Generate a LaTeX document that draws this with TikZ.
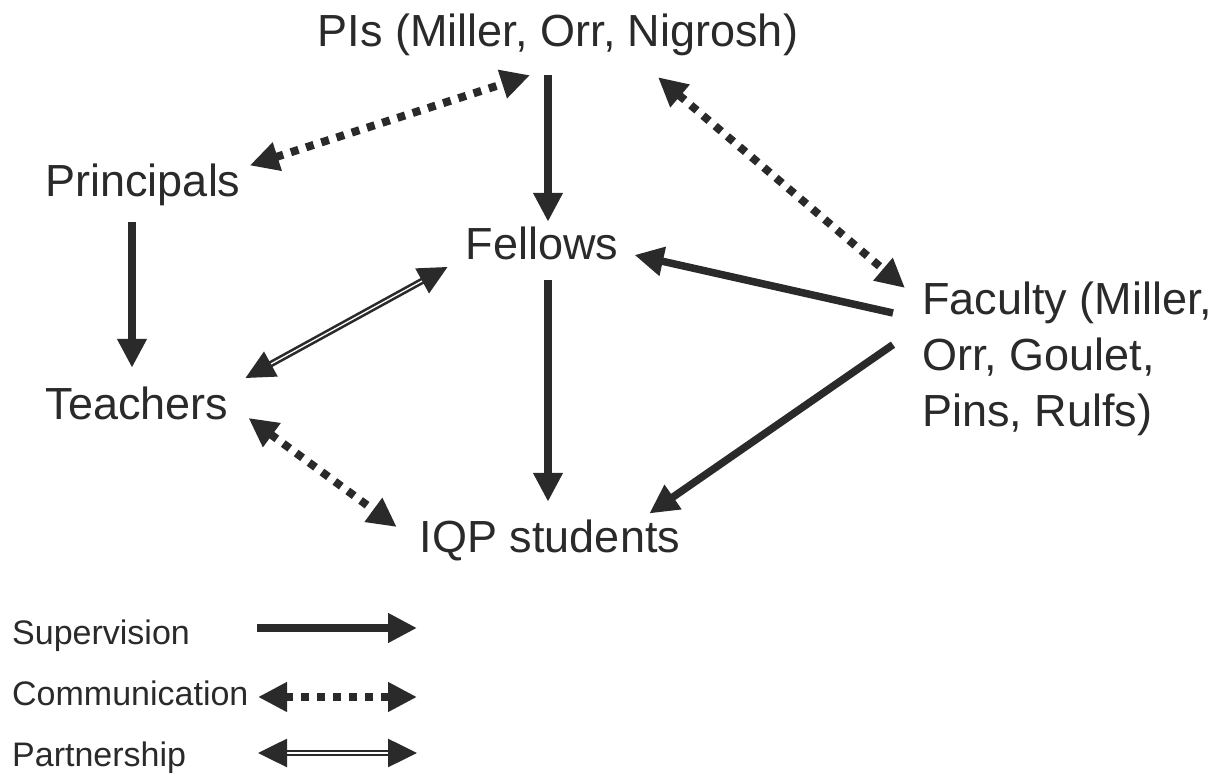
\documentclass[tikz,border=0pt]{standalone}
\usepackage{fontspec}
\setmainfont{Liberation Sans}
\usetikzlibrary{arrows.meta,positioning}
\definecolor{ink}{RGB}{42,42,42}

\begin{document}
\begin{tikzpicture}[
	x = 1pt, y = 1pt,
	every node/.style = {inner sep=0, text=ink},
	role/.style = {font=\fontsize{45}{56}\selectfont, text height=33pt, text depth=10pt, anchor=base},
	key/.style = {font=\fontsize{34}{40}\selectfont, anchor=base west},
	supervise/.style = {draw=ink, line width=7.5pt, -{Triangle[length=29pt, width=28pt]}},
	talk/.style = {draw=ink, line width=8pt, dash pattern=on 8pt off 8pt, {Triangle[length=29pt, width=28pt]}-{Triangle[length=29pt, width=28pt]}},
	partner/.style = {draw=ink, line width=2.6pt, double=white, double distance=1.3pt, {Triangle[length=29pt, width=28pt]}-{Triangle[length=29pt, width=28pt]}}
]
\useasboundingbox (0,0) rectangle (1227,778);

\node [role] (pis) at (558,731) {PIs (Miller, Orr, Nigrosh)};
\node [role] (prin) at (143,581) {Principals};
\node [role] (fel) at (542,518) {Fellows};
\node [role] (teach) at (137,358) {Teachers};
\node [role] (iqp) at (550,225) {IQP students};
\node [font=\fontsize{45}{56}\selectfont, align=left, anchor=north west] (fac) at (922,496)
	{Faculty (Miller,\\Orr, Goulet,\\Pins, Rulfs)};

\draw [supervise] ([shift={(-10,-18)}]pis.south) -- ([shift={(6,5)}]fel.north);
\draw [supervise] ([shift={(6,-10)}]fel.south) -- ([shift={(-2,18)}]iqp.north);
\draw [supervise] ([shift={(-11,-15)}]prin.south) -- ([shift={(-5,19)}]teach.north);
\draw [supervise] ([shift={(-29,-31)}]fac.north west) -- ([shift={(16,-6.5)}]fel.east);
\draw [supervise] ([shift={(-29,14.5)}]fac.west) -- ([shift={(-31,28)}]iqp.east);

\draw [talk] ([shift={(9,20)}]prin.east) -- ([shift={(-28,-18)}]pis.south);
\draw [talk] ([shift={(100,-20)}]pis.south) -- ([shift={(-17,-6)}]fac.north west);
\draw [talk] ([shift={(20,-9.5)}]teach.east) -- ([shift={(-23,14.5)}]iqp.west);

\draw [partner] ([shift={(17,30.5)}]teach.east) -- ([shift={(-18,-18.5)}]fel.west);

\node [key] (sup) at (12,133) {Supervision};
\node [key] (com) at (12,72) {Communication};
\node [key] (par) at (12,11) {Partnership};
\coordinate (supA) at (257,150);
\coordinate (supB) at (417,150);
\coordinate (comA) at (258,81);
\coordinate (comB) at (417,81);
\coordinate (parA) at (258,25);
\coordinate (parB) at (417,25);
\draw [supervise] (supA) -- (supB);
\draw [talk] (comA) -- (comB);
\draw [partner] (parA) -- (parB);
\end{tikzpicture}
\end{document}
